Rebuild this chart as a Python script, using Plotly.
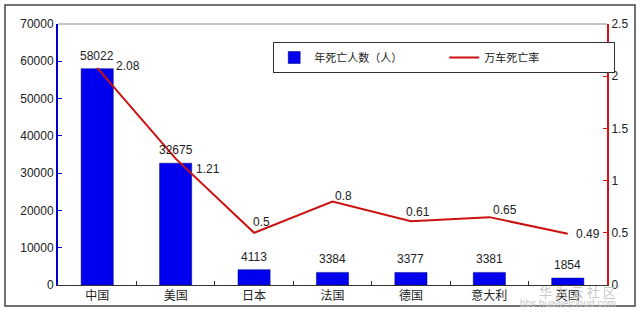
import plotly.graph_objects as go

countries = ["中国", "美国", "日本", "法国", "德国", "意大利", "英国"]
deaths = [58022, 32675, 4113, 3384, 3377, 3381, 1854]
rate = [2.08, 1.21, 0.5, 0.8, 0.61, 0.65, 0.49]
left_ticks = [0, 10000, 20000, 30000, 40000, 50000, 60000, 70000]
right_ticks = [0, 0.5, 1, 1.5, 2, 2.5]

# label offsets (pixels) for the rate labels
rate_dx = [31, 32, 7, 11, 7, 16, 20]
rate_dy = [2, -10, 11, 5, 9, 7, 0]

FONT = "Liberation Sans, Arial, Noto Sans CJK SC"

fig = go.Figure()
fig.add_trace(go.Bar(
    x=countries, y=deaths, name="年死亡人数（人）",
    marker=dict(color="#0000ee", line=dict(color="#000080", width=0.5)),
    width=0.41,
))
fig.add_trace(go.Scatter(
    x=countries, y=rate, name="万车死亡率", yaxis="y2",
    mode="lines", line=dict(color="#cc1111", width=2),
    cliponaxis=False,
))

annotations = []
for c, v in zip(countries, deaths):
    annotations.append(dict(x=c, y=v, xref="x", yref="y", text=str(v), showarrow=False,
                            yshift=13, font=dict(size=12, color="#222222", family=FONT)))
for c, v, dx, dy in zip(countries, rate, rate_dx, rate_dy):
    annotations.append(dict(x=c, y=v, xref="x", yref="y2", text=str(v), showarrow=False,
                            xshift=dx, yshift=dy, font=dict(size=12, color="#222222", family=FONT)))
annotations += [
    dict(text="华 为 云 社 区", xref="paper", yref="paper", x=1.02, y=-0.025,
         xanchor="right", yanchor="middle", showarrow=False,
         font=dict(size=13, color="#c8c8c8", family="Noto Sans CJK SC")),
    dict(text="bbs.huaweicloud.com", xref="paper", yref="paper", x=1.02, y=-0.07,
         xanchor="right", yanchor="middle", showarrow=False,
         font=dict(size=10, color="#c8c8c8")),
]

fig.update_layout(
    width=640, height=317,
    margin=dict(l=58, r=33, t=24, b=32, autoexpand=False),
    paper_bgcolor="white", plot_bgcolor="white",
    font=dict(family=FONT, size=12, color="#222222"),
    xaxis=dict(showline=True, linecolor="#333333", linewidth=1,
               ticks="inside", tickson="boundaries", ticklen=4, tickcolor="#333333",
               showgrid=False, tickfont=dict(size=12, family="Noto Sans CJK SC")),
    yaxis=dict(range=[0, 70000], tickvals=left_ticks, tickformat="d", showline=True,
               linecolor="#0000cc", linewidth=2, ticks="inside", ticklen=4,
               tickcolor="#0000cc", showgrid=False, zeroline=False, tickfont=dict(size=12)),
    yaxis2=dict(range=[0, 2.5], tickvals=right_ticks, overlaying="y", side="right",
                showline=True, linecolor="#dd1111", linewidth=2, ticks="inside", ticklen=4,
                tickcolor="#dd1111", showgrid=False, zeroline=False, tickfont=dict(size=12)),
    legend=dict(orientation="h", x=0.392, y=0.931, xanchor="left", yanchor="top",
                bordercolor="#333333", borderwidth=1, bgcolor="white",
                font=dict(size=11, family="Noto Sans CJK SC"), entrywidth=125,
                itemwidth=30, tracegroupgap=0),
    showlegend=True,
    shapes=[
        dict(type="line", xref="paper", yref="paper", x0=0, x1=1, y0=1, y1=1,
             line=dict(color="#888888", width=1)),
        dict(type="rect", xref="paper", yref="paper", x0=-0.0965, x1=1.051, y0=-0.08, y1=1.073,
             line=dict(color="#444444", width=1.5)),
    ],
    annotations=annotations,
)

fig.write_html("out.html")
